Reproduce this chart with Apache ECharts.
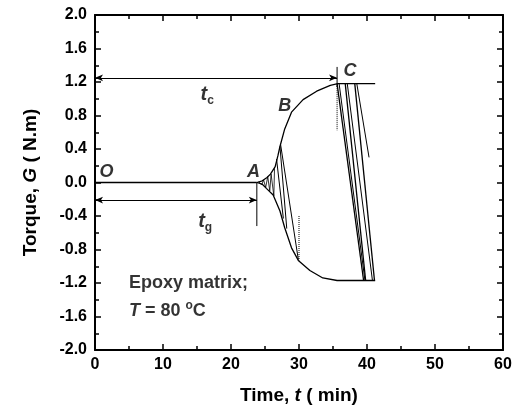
<!DOCTYPE html>
<html>
<head>
<meta charset="utf-8">
<script src="https://cdn.jsdelivr.net/npm/echarts@6/dist/echarts.min.js"></script>
<style>
html, body { margin: 0; padding: 0; background: #fff; }
#chart { width: 521px; height: 410px; }
</style>
</head>
<body>
<div id="chart"></div>
<script>
// time t (min) vs torque G (N.m)
var xTicks = [0, 10, 20, 30, 40, 50, 60];
var yTicks = [-2.0, -1.6, -1.2, -0.8, -0.4, 0.0, 0.4, 0.8, 1.2, 1.6, 2.0];

var baseLine = [[0, 0], [23.8, 0]];
var upperBranch = [[23.8, 0], [24.6, 0.02], [25.3, 0.06], [25.8, 0.1], [26.5, 0.19], [26.9, 0.32], [27.2, 0.43],
  [27.9, 0.64], [28.9, 0.84], [30.6, 0.99], [32.6, 1.09], [34.6, 1.16], [35.7, 1.18], [41.2, 1.18]];
var lowerBranch = [[23.8, 0], [24.6, -0.02], [25.2, -0.07], [26.2, -0.15], [27.2, -0.34], [27.9, -0.54],
  [28.9, -0.78], [29.9, -0.93], [31.6, -1.05], [33.5, -1.14], [35.6, -1.17], [41.2, -1.17]];

// oscillation traces between the two branches
var hatchA = [[24.1, 0.01], [24.5, -0.03], [24.8, 0.03], [25.1, -0.06], [25.4, 0.07], [25.7, -0.1],
  [25.9, 0.1], [26.3, -0.16], [26.4, 0.17]];
var swingA1 = [[26.7, 0.28], [27.7, -0.43]];
var swingA2 = [[27.2, 0.43], [28.2, -0.55]];
var swingA3 = [[27.3, 0.45], [29.9, -0.92]];
var swingC1 = [[35.6, 1.18], [39.5, -1.17]];
var swingC2 = [[35.9, 1.18], [39.7, -1.17]];
var swingC3 = [[36.8, 1.18], [39.8, -1.17]];
var swingC4 = [[37.1, 1.18], [40.8, -1.17]];
var swingC5 = [[38.2, 1.18], [41.1, -1.17]];
var swingC6 = [[38.5, 1.18], [40.3, 0.30]];
var dottedC = [[35.6, 1.15], [35.6, 0.62]];
var dottedA = [[30.0, -0.40], [30.0, -0.93]];

// time markers
var tcArrow = [[0, 1.25], [35.6, 1.25]];
var tgArrow = [[0, -0.21], [23.8, -0.21]];
var tcBar = [[35.6, 1.38], [35.6, 1.14]];
var tgBar = [[23.8, 0], [23.8, -0.52]];

var notes = [
  { value: [1.7, 0.13], name: '{p|O}' },
  { value: [23.3, 0.12], name: '{p|A}' },
  { value: [27.9, 0.91], name: '{p|B}' },
  { value: [37.5, 1.33], name: '{p|C}' },
  { value: [16.5, 1.05], name: '{t|t}{s|c}' },
  { value: [16.2, -0.47], name: '{t|t}{s|g}' }
];
var legendNotes = [
  { value: [5.0, -1.2], name: '{b|Epoxy matrix;}' },
  { value: [5.0, -1.53], name: '{t2|T}{b| = 80 }{o|o}{b|C}' }
];

var FONT = 'Liberation Sans, Arial, sans-serif';
var chart = echarts.init(document.getElementById('chart'), null, { renderer: 'canvas' });

function seg(data, style) {
  return {
    type: 'line', data: data, symbol: 'none', silent: true, animation: false,
    lineStyle: Object.assign({ color: '#000', width: 1 }, style || {})
  };
}

var richText = {
  p: { fontFamily: FONT, fontSize: 18, fontWeight: 'bold', fontStyle: 'italic', color: '#000' },
  t: { fontFamily: FONT, fontSize: 20, fontWeight: 'bold', fontStyle: 'italic', color: '#000', lineHeight: 24 },
  s: { fontFamily: FONT, fontSize: 12, fontWeight: 'bold', color: '#000', lineHeight: 14, verticalAlign: 'bottom' },
  b: { fontFamily: FONT, fontSize: 18, fontWeight: 'bold', color: '#000', lineHeight: 22 },
  t2: { fontFamily: FONT, fontSize: 18, fontWeight: 'bold', fontStyle: 'italic', color: '#000', lineHeight: 22 },
  o: { fontFamily: FONT, fontSize: 12, fontWeight: 'bold', color: '#000', lineHeight: 12, verticalAlign: 'top' }
};

function frameAxis(pos, isX, show) {
  var ax = {
    type: 'value', position: pos,
    min: isX ? xTicks[0] : yTicks[0],
    max: isX ? xTicks[xTicks.length - 1] : yTicks[yTicks.length - 1],
    interval: isX ? 10 : 0.4,
    axisLine: { show: true, onZero: false, lineStyle: { color: '#000', width: 2 } },
    axisTick: { show: true, inside: true, length: 6, lineStyle: { color: '#000', width: 1.5 } },
    minorTick: { show: true, splitNumber: 2, length: 4, lineStyle: { color: '#000', width: 1.5 } },
    splitLine: { show: false },
    axisLabel: {
      show: show, margin: isX ? 7 : 8, color: '#000', fontFamily: FONT, fontSize: 16, fontWeight: 'bold',
      formatter: function (v) { return isX ? String(v) : v.toFixed(1); }
    }
  };
  return ax;
}

var xBottom = frameAxis('bottom', true, true);
xBottom.name = 'Time, {i|t} ( min)';
xBottom.nameLocation = 'middle';
xBottom.nameGap = 36;
xBottom.nameTextStyle = {
  fontFamily: FONT, fontSize: 19, fontWeight: 'bold', color: '#000',
  rich: { i: { fontFamily: FONT, fontSize: 19, fontWeight: 'bold', fontStyle: 'italic', color: '#000' } }
};
var yLeft = frameAxis('left', false, true);
yLeft.name = 'Torque, {i|G} ( N.m)';
yLeft.nameLocation = 'middle';
yLeft.nameGap = 55;
yLeft.nameTextStyle = {
  fontFamily: FONT, fontSize: 19, fontWeight: 'bold', color: '#000',
  rich: { i: { fontFamily: FONT, fontSize: 19, fontWeight: 'bold', fontStyle: 'italic', color: '#000' } }
};

var arrowLine = function (pts) {
  return {
    type: 'line', data: [], symbol: 'none', silent: true, animation: false,
    markLine: {
      silent: true, animation: false,
      symbol: ['arrow', 'arrow'], symbolSize: [5, 8],
      label: { show: false },
      lineStyle: { color: '#000', width: 1, type: 'solid' },
      emphasis: { disabled: true },
      data: [[{ coord: pts[0] }, { coord: pts[1] }]]
    }
  };
};

var option = {
  animation: false,
  backgroundColor: '#fff',
  grid: { left: 95, right: 18, top: 15, bottom: 57 },
  xAxis: [xBottom, frameAxis('top', true, false)],
  yAxis: [yLeft, frameAxis('right', false, false)],
  series: [
    seg(baseLine, { width: 1.3 }),
    seg(upperBranch, { width: 1.3 }),
    seg(lowerBranch, { width: 1.3 }),
    seg(hatchA, { width: 0.8 }),
    seg(swingA1), seg(swingA2), seg(swingA3),
    seg(swingC1, { width: 1.3 }), seg(swingC2), seg(swingC3, { width: 1.3 }),
    seg(swingC4), seg(swingC5, { width: 1.3 }), seg(swingC6),
    seg(dottedC, { type: 'dotted' }), seg(dottedA, { type: 'dotted' }),
    seg(tcBar), seg(tgBar),
    arrowLine(tcArrow), arrowLine(tgArrow),
    {
      type: 'scatter', data: notes, symbolSize: 0, silent: true, animation: false,
      label: { show: true, position: 'inside', formatter: function (p) { return p.name; }, rich: richText }
    },
    {
      type: 'scatter', data: legendNotes, symbolSize: 0, silent: true, animation: false,
      label: { show: true, position: 'inside', align: 'left', formatter: function (p) { return p.name; }, rich: richText }
    }
  ]
};
chart.setOption(option);
</script>
</body>
</html>
